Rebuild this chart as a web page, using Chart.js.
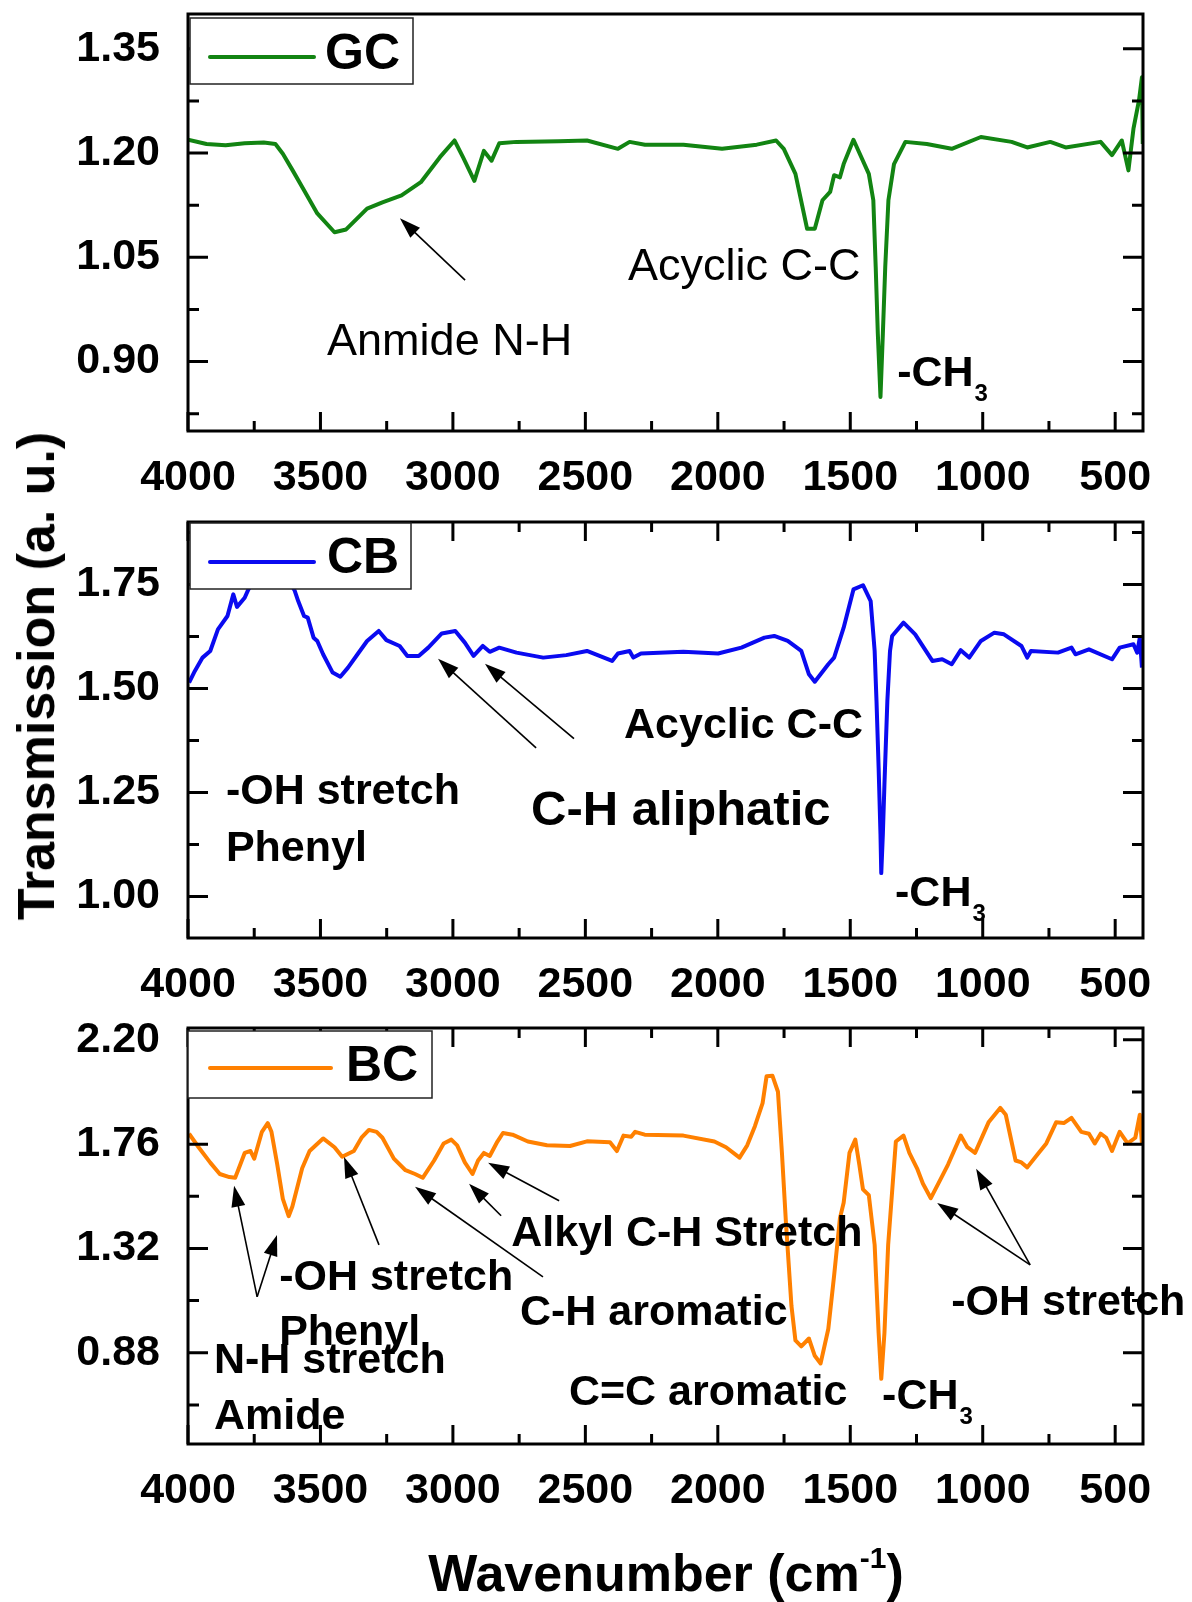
<!DOCTYPE html>
<html>
<head>
<meta charset="utf-8">
<title>FTIR spectra GC / CB / BC</title>
<script src="https://cdn.jsdelivr.net/npm/chart.js@4.4.1/dist/chart.umd.min.js"></script>
<style>
  html, body { margin: 0; padding: 0; background: #fff; }
  #figure { position: relative; width: 1192px; height: 1602px; overflow: hidden; font-family: "Liberation Sans", Arial, sans-serif; color: #000; }
  #figure canvas { position: absolute; left: 0; }
  .axis-title { position: absolute; font-weight: bold; font-size: 52px; line-height: 52px; white-space: nowrap; }
  #yTitle { left: 36px; top: 676px; transform: translate(-50%, -50%) rotate(-90deg); }
  #xTitle { left: 666px; top: 1577px; transform: translate(-50%, -50%); }
  #xTitle .sup { font-size: 30px; position: relative; top: -23px; }
</style>
</head>
<body>
<div id="figure">
  <canvas id="gcChart" width="1192" height="500" style="top:0px"></canvas>
  <canvas id="cbChart" width="1192" height="500" style="top:500px"></canvas>
  <canvas id="bcChart" width="1192" height="602" style="top:1000px"></canvas>
  <div class="axis-title" id="yTitle">Transmission (a. u.)</div>
  <div class="axis-title" id="xTitle">Wavenumber (cm<span class="sup">-1</span>)</div>
</div>
<script>
// Wavenumber axis (shared by all three panels)
const xMajor = [4000, 3500, 3000, 2500, 2000, 1500, 1000, 500];
const xMinor = [3750, 3250, 2750, 2250, 1750, 1250, 750];

// GC spectrum
const gcWave = [4000, 3930, 3858, 3786, 3714, 3670, 3642, 3605, 3569, 3512, 3447, 3403, 3324, 3266, 3194, 3121, 3049, 2994, 2962, 2919, 2883, 2854, 2825, 2760, 2600, 2494, 2377, 2333, 2275, 2130, 1984, 1853, 1780, 1751, 1707, 1663, 1634, 1605, 1576, 1561, 1539, 1525, 1488, 1430, 1413, 1404, 1396, 1386, 1377, 1368, 1356, 1335, 1292, 1211, 1117, 1007, 891, 832, 745, 687, 555, 512, 475, 450, 431, 410, 399, 396];
const gcTrans = [1.219, 1.213, 1.211, 1.214, 1.215, 1.213, 1.199, 1.175, 1.151, 1.113, 1.086, 1.090, 1.120, 1.129, 1.139, 1.158, 1.194, 1.218, 1.194, 1.160, 1.203, 1.189, 1.214, 1.216, 1.217, 1.218, 1.206, 1.216, 1.212, 1.212, 1.206, 1.212, 1.218, 1.206, 1.170, 1.091, 1.091, 1.132, 1.144, 1.168, 1.165, 1.184, 1.219, 1.170, 1.132, 1.036, 0.940, 0.849, 0.940, 1.036, 1.132, 1.184, 1.216, 1.213, 1.206, 1.223, 1.216, 1.208, 1.216, 1.208, 1.216, 1.197, 1.218, 1.175, 1.235, 1.276, 1.309, 1.213];
const gcMajor = [0.90, 1.05, 1.20, 1.35];
const gcMinor = [0.825, 0.975, 1.125, 1.275];

// CB spectrum
const cbWave = [3996, 3974, 3945, 3916, 3887, 3851, 3829, 3815, 3786, 3772, 3740, 3700, 3660, 3620, 3598, 3584, 3562, 3548, 3526, 3512, 3490, 3454, 3425, 3396, 3360, 3324, 3280, 3251, 3201, 3172, 3129, 3093, 3042, 2991, 2955, 2922, 2887, 2861, 2825, 2760, 2659, 2572, 2494, 2399, 2377, 2333, 2319, 2290, 2130, 1999, 1911, 1824, 1787, 1736, 1685, 1656, 1634, 1583, 1561, 1525, 1488, 1452, 1423, 1408, 1401, 1393, 1386, 1383, 1377, 1371, 1360, 1350, 1342, 1299, 1255, 1190, 1153, 1117, 1083, 1051, 1007, 956, 920, 854, 832, 818, 716, 665, 650, 599, 512, 483, 431, 417, 407, 399];
const cbTrans = [1.514, 1.542, 1.574, 1.590, 1.642, 1.674, 1.726, 1.696, 1.718, 1.738, 1.77, 1.79, 1.78, 1.76, 1.736, 1.710, 1.674, 1.670, 1.622, 1.614, 1.582, 1.538, 1.528, 1.550, 1.582, 1.614, 1.638, 1.616, 1.602, 1.578, 1.578, 1.598, 1.632, 1.638, 1.610, 1.578, 1.602, 1.588, 1.598, 1.586, 1.574, 1.580, 1.590, 1.566, 1.584, 1.590, 1.574, 1.584, 1.588, 1.584, 1.598, 1.622, 1.626, 1.614, 1.590, 1.534, 1.516, 1.558, 1.574, 1.646, 1.738, 1.748, 1.710, 1.590, 1.47, 1.31, 1.15, 1.056, 1.15, 1.27, 1.47, 1.59, 1.626, 1.658, 1.630, 1.566, 1.570, 1.558, 1.592, 1.574, 1.614, 1.634, 1.630, 1.602, 1.574, 1.590, 1.586, 1.598, 1.582, 1.594, 1.570, 1.598, 1.606, 1.586, 1.622, 1.550];
const cbMajor = [1.00, 1.25, 1.50, 1.75];
const cbMinor = [1.125, 1.375, 1.625, 1.875];

// BC spectrum
const bcWave = [3996, 3960, 3916, 3880, 3844, 3822, 3808, 3786, 3764, 3750, 3721, 3699, 3685, 3663, 3642, 3620, 3606, 3569, 3541, 3490, 3447, 3418, 3374, 3345, 3317, 3288, 3266, 3223, 3179, 3143, 3114, 3071, 3035, 3006, 2984, 2955, 2926, 2905, 2883, 2861, 2832, 2811, 2775, 2717, 2645, 2558, 2494, 2407, 2381, 2356, 2327, 2312, 2276, 2130, 2013, 1969, 1918, 1889, 1860, 1831, 1816, 1794, 1773, 1758, 1743, 1722, 1707, 1685, 1656, 1634, 1612, 1583, 1561, 1539, 1525, 1503, 1481, 1466, 1452, 1430, 1408, 1393, 1383, 1371, 1357, 1328, 1299, 1277, 1248, 1226, 1196, 1160, 1131, 1083, 1058, 1029, 978, 934, 913, 876, 854, 832, 789, 760, 723, 694, 665, 628, 599, 577, 555, 534, 512, 483, 453, 424, 407, 399];
const bcTrans = [1.804, 1.747, 1.682, 1.634, 1.621, 1.618, 1.658, 1.723, 1.731, 1.699, 1.812, 1.849, 1.812, 1.674, 1.529, 1.456, 1.497, 1.658, 1.731, 1.784, 1.747, 1.707, 1.731, 1.787, 1.820, 1.812, 1.787, 1.699, 1.650, 1.634, 1.618, 1.691, 1.763, 1.779, 1.755, 1.683, 1.634, 1.691, 1.723, 1.710, 1.771, 1.807, 1.800, 1.771, 1.755, 1.752, 1.772, 1.768, 1.731, 1.796, 1.791, 1.812, 1.800, 1.796, 1.771, 1.747, 1.703, 1.755, 1.836, 1.933, 2.046, 2.049, 1.981, 1.723, 1.432, 1.077, 0.932, 0.907, 0.940, 0.867, 0.835, 0.980, 1.206, 1.448, 1.513, 1.723, 1.779, 1.674, 1.569, 1.545, 1.335, 0.964, 0.770, 0.964, 1.335, 1.771, 1.796, 1.723, 1.658, 1.594, 1.532, 1.610, 1.674, 1.796, 1.747, 1.723, 1.852, 1.913, 1.884, 1.691, 1.683, 1.662, 1.723, 1.763, 1.852, 1.849, 1.871, 1.812, 1.804, 1.763, 1.804, 1.787, 1.731, 1.812, 1.763, 1.787, 1.884, 1.763];
const bcMajor = [0.88, 1.32, 1.76, 2.20];
const bcMinor = [0.66, 1.10, 1.54, 1.98];

const FONT = '"Liberation Sans", Arial, sans-serif';
const fontStr = (size, bold) => (bold ? 'bold ' : '') + size + 'px ' + FONT;

// frame around the plot with inward major/minor ticks
function framePlugin(p) {
  return {
    id: 'frame',
    afterDatasetsDraw(chart) {
      const { ctx, chartArea: a, scales: { x, y } } = chart;
      ctx.save();
      ctx.strokeStyle = '#000';
      ctx.lineWidth = 3;
      ctx.strokeRect(a.left, a.top, a.right - a.left, a.bottom - a.top);
      ctx.beginPath();
      const seg = (x0, y0, x1, y1) => { ctx.moveTo(x0, y0); ctx.lineTo(x1, y1); };
      const xt = (vals, len) => vals.forEach(v => {
        const px = x.getPixelForValue(v);
        seg(px, a.bottom, px, a.bottom - len);
        if (p.topTicks) seg(px, a.top, px, a.top + len);
      });
      const yt = (vals, len) => vals.forEach(v => {
        const py = y.getPixelForValue(v);
        seg(a.left, py, a.left + len, py);
        seg(a.right, py, a.right - len, py);
      });
      xt(xMajor, 19); xt(xMinor, 10);
      yt(p.yMajor, 20); yt(p.yMinor, 11);
      ctx.stroke();
      ctx.restore();
    }
  };
}

// boxed legend sitting inside the plot's top-left corner
function legendPlugin(p) {
  return {
    id: 'boxLegend',
    afterDatasetsDraw(chart) {
      const { ctx, chartArea: a } = chart;
      const L = p.legend;
      ctx.save();
      ctx.fillStyle = '#fff';
      ctx.fillRect(a.left + L.x, a.top + L.y, L.w, L.h);
      ctx.strokeStyle = '#222';
      ctx.lineWidth = 1.5;
      ctx.strokeRect(a.left + L.x, a.top + L.y, L.w, L.h);
      ctx.strokeStyle = p.color;
      ctx.lineWidth = 4;
      ctx.lineCap = 'round';
      ctx.beginPath();
      ctx.moveTo(a.left + L.line[0], a.top + L.lineY);
      ctx.lineTo(a.left + L.line[1], a.top + L.lineY);
      ctx.stroke();
      ctx.fillStyle = '#000';
      ctx.font = fontStr(50, true);
      ctx.textBaseline = 'middle';
      ctx.fillText(p.name, a.left + L.textX, a.top + L.textY);
      ctx.restore();
    }
  };
}

function drawArrow(ctx, x0, y0, x1, y1) {
  const ang = Math.atan2(y1 - y0, x1 - x0);
  const c = Math.cos(ang), s = Math.sin(ang);
  const len = 21, half = 7;
  ctx.beginPath();
  ctx.moveTo(x0, y0);
  ctx.lineTo(x1 - c * len * 0.8, y1 - s * len * 0.8);
  ctx.stroke();
  ctx.beginPath();
  ctx.moveTo(x1, y1);
  ctx.lineTo(x1 - c * len - s * half, y1 - s * len + c * half);
  ctx.lineTo(x1 - c * len + s * half, y1 - s * len - c * half);
  ctx.closePath();
  ctx.fill();
}

// band labels and arrows, placed in data coordinates
function notesPlugin(p) {
  return {
    id: 'notes',
    afterDraw(chart) {
      const { ctx, scales: { x, y } } = chart;
      ctx.save();
      ctx.fillStyle = '#000';
      ctx.strokeStyle = '#000';
      ctx.lineWidth = 1.6;
      (p.arrows || []).forEach(ar => {
        drawArrow(ctx, x.getPixelForValue(ar.from[0]), y.getPixelForValue(ar.from[1]),
                  x.getPixelForValue(ar.to[0]), y.getPixelForValue(ar.to[1]));
      });
      ctx.textAlign = 'left';
      ctx.textBaseline = 'alphabetic';
      (p.notes || []).forEach(n => {
        const size = n.size || 43;
        const bold = n.bold !== false;
        const px = x.getPixelForValue(n.w);
        const base = y.getPixelForValue(n.v) + 0.358 * size;
        ctx.font = fontStr(size, bold);
        ctx.fillText(n.t, px, base);
        if (n.sub) {
          const wTxt = ctx.measureText(n.t).width;
          ctx.font = fontStr(24, bold);
          ctx.fillText(n.sub, px + wTxt + 1, base + 15);
        }
      });
      ctx.restore();
    }
  };
}

// keep the plot box fixed: no extra room for edge tick labels
function noEdgePadding(s) {
  s.paddingTop = 0; s.paddingBottom = 0; s.paddingLeft = 0; s.paddingRight = 0;
}

function makePanel(id, p) {
  const tickFont = { family: FONT, size: 43, weight: 'bold' };
  return new Chart(document.getElementById(id), {
    type: 'line',
    data: {
      datasets: [{
        label: p.name,
        data: p.wave.map((w, i) => ({ x: w, y: p.trans[i] })),
        borderColor: p.color,
        borderWidth: 4,
        borderJoinStyle: 'round',
        pointRadius: 0,
        tension: 0,
        fill: false
      }]
    },
    options: {
      responsive: false,
      animation: false,
      events: [],
      layout: { padding: { top: p.areaTop, right: 49, bottom: 0, left: 0 } },
      plugins: { legend: { display: false }, tooltip: { enabled: false } },
      scales: {
        x: {
          type: 'linear',
          reverse: true,
          min: 395,
          max: 4000,
          grid: { display: false },
          border: { display: false },
          afterBuildTicks: s => { s.ticks = xMajor.concat(xMinor).sort((a, b) => a - b).map(v => ({ value: v })); },
          afterFit: s => { s.height = p.height - p.areaBottom; noEdgePadding(s); },
          ticks: {
            autoSkip: false, maxRotation: 0, minRotation: 0, padding: 13, color: '#000', font: tickFont,
            callback: v => xMajor.includes(v) ? String(v) : ''
          }
        },
        y: {
          type: 'linear',
          min: p.yMin,
          max: p.yMax,
          grid: { display: false },
          border: { display: false },
          afterBuildTicks: s => { s.ticks = p.yMajor.concat(p.yMinor).sort((a, b) => a - b).map(v => ({ value: v })); },
          afterFit: s => { s.width = 188; noEdgePadding(s); },
          ticks: {
            autoSkip: false, padding: 20, color: '#000', font: tickFont,
            callback: v => p.yMajor.includes(v) ? v.toFixed(2) : ''
          }
        }
      }
    },
    plugins: [framePlugin(p), legendPlugin(p), notesPlugin(p)]
  });
}

makePanel('gcChart', {
  name: 'GC', color: '#128412', wave: gcWave, trans: gcTrans,
  height: 500, areaTop: 14, areaBottom: 431,
  yMin: 0.80, yMax: 1.40, yMajor: gcMajor, yMinor: gcMinor, topTicks: false,
  legend: { x: 2, y: 4, w: 223, h: 66, line: [22, 126], lineY: 43, textX: 137, textY: 41 },
  notes: [
    { t: 'Anmide N-H', w: 3475, v: 0.932, size: 45, bold: false },
    { t: 'Acyclic C-C', w: 2339, v: 1.040, size: 45, bold: false },
    { t: '-CH', sub: '3', w: 1323, v: 0.887 }
  ],
  arrows: [{ from: [2954, 1.017], to: [3200, 1.106] }]
});

makePanel('cbChart', {
  name: 'CB', color: '#0a0af0', wave: cbWave, trans: cbTrans,
  height: 500, areaTop: 22, areaBottom: 438,
  yMin: 0.90, yMax: 1.90, yMajor: cbMajor, yMinor: cbMinor, topTicks: true,
  legend: { x: 2, y: 1, w: 221, h: 66, line: [22, 126], lineY: 40, textX: 139, textY: 37 },
  notes: [
    { t: '-OH stretch', w: 3857, v: 1.259 },
    { t: 'Phenyl', w: 3857, v: 1.122 },
    { t: 'C-H aliphatic', w: 2705, v: 1.213, size: 49 },
    { t: 'Acyclic C-C', w: 2354, v: 1.417 },
    { t: '-CH', sub: '3', w: 1331, v: 1.014 }
  ],
  arrows: [
    { from: [2686, 1.357], to: [3056, 1.571] },
    { from: [2543, 1.379], to: [2879, 1.559] }
  ]
});

makePanel('bcChart', {
  name: 'BC', color: '#ff8000', wave: bcWave, trans: bcTrans,
  height: 602, areaTop: 28, areaBottom: 444,
  yMin: 0.495, yMax: 2.25, yMajor: bcMajor, yMinor: bcMinor, topTicks: true,
  legend: { x: 0, y: 3, w: 244, h: 67, line: [22, 143], lineY: 40, textX: 158, textY: 39 },
  notes: [
    { t: '-OH stretch', w: 3656, v: 1.209 },
    { t: 'Phenyl', w: 3656, v: 0.977 },
    { t: 'N-H stretch', w: 3902, v: 0.858 },
    { t: 'Amide', w: 3902, v: 0.622 },
    { t: 'Alkyl C-H Stretch', w: 2780, v: 1.394 },
    { t: 'C-H aromatic', w: 2747, v: 1.061 },
    { t: 'C=C aromatic', w: 2562, v: 0.723 },
    { t: '-CH', sub: '3', w: 1380, v: 0.707 },
    { t: '-OH stretch', w: 1119, v: 1.103 }
  ],
  arrows: [
    { from: [3739, 1.116], to: [3826, 1.584] },
    { from: [3739, 1.116], to: [3664, 1.377] },
    { from: [3279, 1.335], to: [3411, 1.706] },
    { from: [2660, 1.200], to: [3143, 1.580] },
    { from: [2818, 1.458], to: [2939, 1.593] },
    { from: [2599, 1.521], to: [2867, 1.681] },
    { from: [821, 1.251], to: [1172, 1.512] },
    { from: [821, 1.251], to: [1025, 1.656] }
  ]
});
</script>
</body>
</html>
